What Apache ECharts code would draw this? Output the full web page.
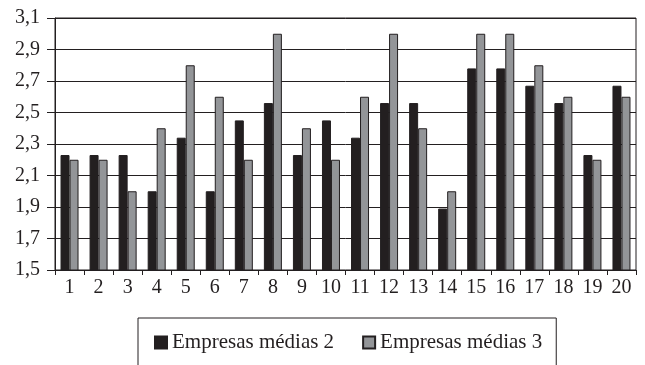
<!DOCTYPE html>
<html>
<head>
<meta charset="utf-8">
<script src="https://cdn.jsdelivr.net/npm/echarts@6/dist/echarts.min.js"></script>
<style>
  html, body { margin: 0; padding: 0; background: #fff; }
  #chart { width: 645px; height: 365px; }
</style>
</head>
<body>
<div id="chart"></div>
<script>
// Categories and series values
const categories = ['1','2','3','4','5','6','7','8','9','10','11','12','13','14','15','16','17','18','19','20'];
const seriesNames = ['Empresas médias 2', 'Empresas médias 3'];
const medias2 = [2.23, 2.23, 2.23, 2.0, 2.34, 2.0, 2.45, 2.56, 2.23, 2.45, 2.34, 2.56, 2.56, 1.89, 2.78, 2.78, 2.67, 2.56, 2.23, 2.67];
const medias3 = [2.2, 2.2, 2.0, 2.4, 2.8, 2.6, 2.2, 3.0, 2.4, 2.2, 2.6, 3.0, 2.4, 2.0, 3.0, 3.0, 2.8, 2.6, 2.2, 2.6];

const ink = '#231f20';
const font = 'Liberation Serif';

const chart = echarts.init(document.getElementById('chart'));
chart.setOption({
  animation: false,
  textStyle: { fontFamily: font },
  grid: {
    left: 55, right: 9, top: 18, bottom: 95,
    show: true, borderColor: ink, borderWidth: 1
  },
  legend: {
    data: seriesNames,
    left: 138, top: 318,
    itemWidth: 12, itemHeight: 12, itemGap: 28,
    padding: [14, 14, 40, 16],
    borderColor: ink, borderWidth: 1,
    icon: 'rect',
    textStyle: { fontFamily: font, fontSize: 21, color: ink }
  },
  xAxis: {
    type: 'category',
    data: categories,
    axisLine: { lineStyle: { color: ink, width: 1 } },
    axisTick: { show: true, length: 5, lineStyle: { color: ink } },
    axisLabel: { color: ink, fontSize: 20, margin: 8 }
  },
  yAxis: {
    type: 'value',
    min: 1.5, max: 3.1, interval: 0.2,
    axisLine: { show: true, lineStyle: { color: ink, width: 1 } },
    axisTick: { show: true, length: 8, lineStyle: { color: ink } },
    splitLine: { lineStyle: { color: ink, width: 1 } },
    axisLabel: {
      color: ink, fontSize: 20, margin: 15,
      formatter: v => v.toFixed(1).replace('.', ',')
    }
  },
  series: [
    {
      name: seriesNames[0], type: 'bar', data: medias2,
      barWidth: 9, barGap: '0%',
      itemStyle: { color: '#231f20', borderColor: ink, borderWidth: 1 }
    },
    {
      name: seriesNames[1], type: 'bar', data: medias3,
      barWidth: 9,
      itemStyle: { color: '#939598', borderColor: ink, borderWidth: 1 }
    }
  ]
});
</script>
</body>
</html>
